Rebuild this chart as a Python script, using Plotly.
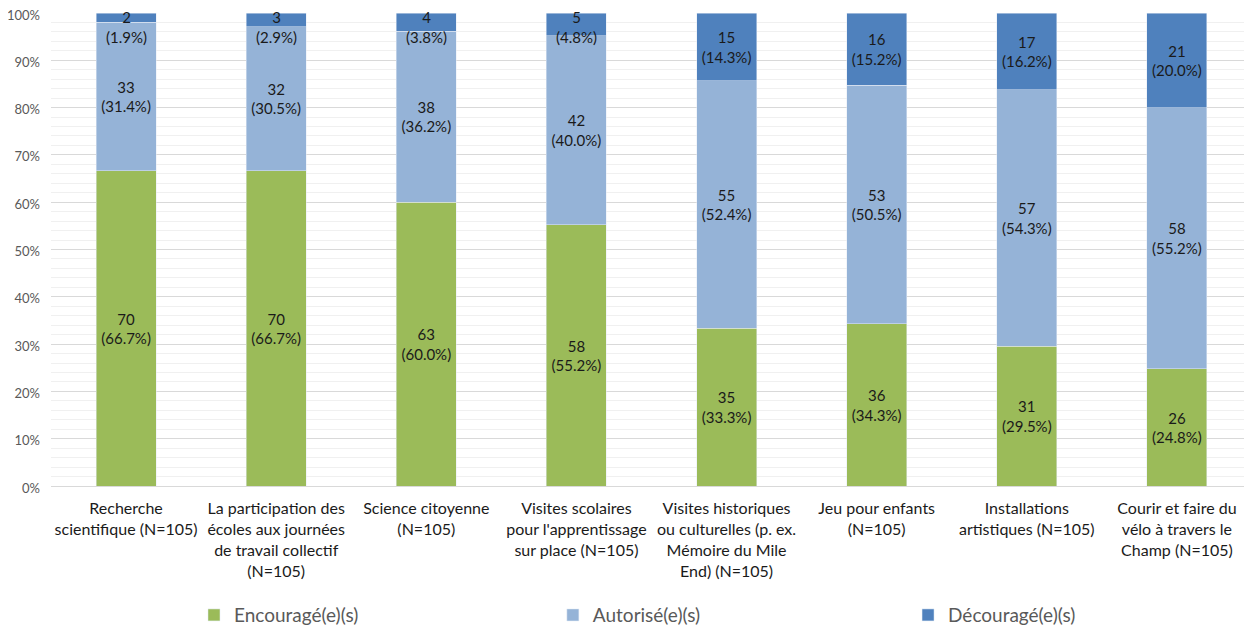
import plotly.graph_objects as go

categories = ["Recherche<br>scientifique (N=105)",
              "La participation des<br>écoles aux journées<br>de travail collectif<br>(N=105)",
              "Science citoyenne<br>(N=105)",
              "Visites scolaires<br>pour l'apprentissage<br>sur place (N=105)",
              "Visites historiques<br>ou culturelles (p. ex.<br>Mémoire du Mile<br>End) (N=105)",
              "Jeu pour enfants<br>(N=105)",
              "Installations<br>artistiques (N=105)",
              "Courir et faire du<br>vélo à travers le<br>Champ (N=105)"]
encourage = [70, 70, 63, 58, 35, 36, 31, 26]
autorise = [33, 32, 38, 42, 55, 53, 57, 58]
decourage = [2, 3, 4, 5, 15, 16, 17, 21]

series = [("Encouragé(e)(s)", encourage, "#9BBB59", "legend", 0.1495),
          ("Autorisé(e)(s)", autorise, "#95B3D7", "legend2", 0.438),
          ("Découragé(e)(s)", decourage, "#4F81BD", "legend3", 0.7235)]

totals = [a + b + c for a, b, c in zip(encourage, autorise, decourage)]
FONT = "Lato"
LBL = dict(family=FONT, size=15, color="#1a1a1a")

fig = go.Figure()
annotations = []
legends = {}
for name, vals, color, leg, lx in series:
    pct = [round(v / t * 100, 1) for v, t in zip(vals, totals)]
    labels = []
    for i, (v, p) in enumerate(zip(vals, pct)):
        txt = f"{v}<br>({p:.1f}%)"
        if p < 8:
            # too thin: label pushed down to stay inside the plot, like Excel does
            labels.append("")
            annotations.append(dict(x=categories[i], y=100, xref="x", yref="y", text=txt,
                                    showarrow=False, yanchor="top", yshift=7, font=LBL))
        else:
            labels.append(txt)
    fig.add_trace(go.Bar(x=categories, y=vals, name=name, marker_color=color,
                         text=labels, textposition="inside", insidetextanchor="middle",
                         constraintext="none", textangle=0, textfont=LBL,
                         hoverinfo="skip", legend=leg, showlegend=True))
    legends[leg] = dict(orientation="h", xref="container", yref="container",
                        x=lx, xanchor="left", y=0.024, yanchor="middle",
                        font=dict(family=FONT, size=19, color="#595959"),
                        bgcolor="rgba(0,0,0,0)")

# page body adds 8px, so the figure is 8px smaller and shifted margins
fig.update_layout(
    barmode="stack", barnorm="percent", bargap=0.6,
    width=1244, height=622,
    margin=dict(l=43, r=0, t=5, b=144),
    plot_bgcolor="white", paper_bgcolor="white",
    font=dict(family=FONT),
    showlegend=True,
    annotations=annotations,
    **legends,
)
fig.update_yaxes(range=[0, 100], dtick=10, ticksuffix="%", gridcolor="#D9D9D9",
                 tickfont=dict(family=FONT, size=13, color="#595959"),
                 minor=dict(dtick=2, showgrid=True, gridcolor="#F0F0F0"),
                 zeroline=False, showline=False, fixedrange=True, automargin=False,
                 ticklabelstandoff=10, ticklabeloverflow="allow", ticklabelshift=2)
fig.update_xaxes(tickfont=dict(family=FONT, size=16, color="#1a1a1a"),
                 showline=True, linecolor="#D9D9D9", ticks="", fixedrange=True,
                 automargin=False, ticklabelstandoff=8)

fig.write_html("out.html")
